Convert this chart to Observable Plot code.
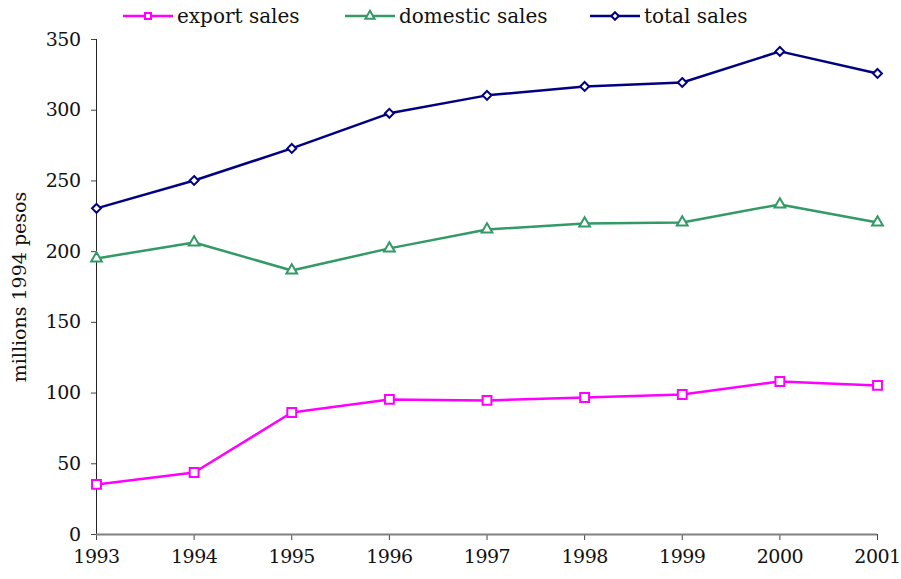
<!DOCTYPE html>
<html>
<head>
<meta charset="utf-8">
<script src="https://cdn.jsdelivr.net/npm/d3@7"></script>
<script src="https://cdn.jsdelivr.net/npm/@observablehq/plot@0.6"></script>
<style>
  html, body { margin: 0; padding: 0; background: white; }
  #wrap { position: relative; width: 901px; height: 579px; font-family: "DejaVu Serif", serif; }
  #legend { position: absolute; top: 0; left: 0; width: 901px; height: 34px; }
  .item { position: absolute; top: 3px; height: 26px; display: flex; align-items: center; font-size: 20px; color: #111; }
  .item svg { margin-right: 4px; }
  svg text { font-family: "DejaVu Serif", serif; }
  g[aria-label="x-axis tick label"] text, g[aria-label="y-axis tick label"] text { letter-spacing: -0.5px; }
</style>
</head>
<body>
<div id="wrap">
  <div id="chart"></div>
  <div id="legend"></div>
</div>
<script>
const years = [1993, 1994, 1995, 1996, 1997, 1998, 1999, 2000, 2001];
const exportSales   = [35.4, 43.8, 86.3, 95.5, 94.8, 96.9, 99.0, 108.2, 105.4];
const domesticSales = [195.2, 206.5, 186.7, 202.3, 215.7, 219.9, 220.6, 233.4, 220.6];
const totalSales    = [230.6, 250.3, 273.0, 297.8, 310.5, 316.8, 319.6, 341.6, 326.0];
const seriesNames   = ["export sales", "domestic sales", "total sales"];
const seriesColors  = ["#FF00FF", "#339966", "#000080"];
const seriesSymbols = ["square", "triangle", "diamond2"];
const yTicks = [0, 50, 100, 150, 200, 250, 300, 350];

const seriesValues = [exportSales, domesticSales, totalSales];
const data = [];
seriesNames.forEach((name, i) => {
  years.forEach((yr, j) => data.push({series: name, year: yr, value: seriesValues[i][j]}));
});

const FONT = "'DejaVu Serif', serif";

const chart = Plot.plot({
  width: 901,
  height: 579,
  marginTop: 39,
  marginBottom: 45,
  marginLeft: 96,
  marginRight: 24,
  style: {fontFamily: FONT, fontSize: "20px", color: "#111", background: "white", overflow: "visible"},
  x: {domain: [1993, 2001]},
  y: {domain: [0, 350]},
  color: {domain: seriesNames, range: seriesColors},
  symbol: {domain: seriesNames, range: seriesSymbols},
  marks: [
    Plot.axisX({ticks: years, tickFormat: d => String(d), tickSize: 6, tickPadding: 9, fontSize: 19, label: null, stroke: "#444"}),
    Plot.axisY({ticks: yTicks, tickSize: 5, tickPadding: 11, fontSize: 19,
      label: "millions 1994 pesos", labelAnchor: "center", labelOffset: 84, labelArrow: "none", stroke: "#444"}),
    Plot.ruleX([1993], {stroke: "#222", strokeWidth: 1}),
    Plot.ruleY([0], {stroke: "#808080", strokeWidth: 2}),
    Plot.line(data, {x: "year", y: "value", z: "series", stroke: "series", strokeWidth: 2.5}),
    Plot.dot(data.filter(d => d.series === "export sales"), {x: "year", y: "value", stroke: "series", symbol: "series", r: 5, strokeWidth: 2, fill: "white"}),
    Plot.dot(data.filter(d => d.series === "domestic sales"), {x: "year", y: "value", stroke: "series", symbol: "series", r: 4, strokeWidth: 2, fill: "white"}),
    Plot.dot(data.filter(d => d.series === "total sales"), {x: "year", y: "value", stroke: "series", symbol: "series", r: 4, strokeWidth: 2, fill: "white"})
  ]
});
document.getElementById("chart").appendChild(chart);

// legend
const legend = d3.select("#legend");
const lefts = [123, 345, 590];
const symMap = {square: d3.symbolSquare, triangle: d3.symbolTriangle, diamond2: d3.symbolDiamond2};
seriesNames.forEach((name, i) => {
  const item = legend.append("div").attr("class", "item").style("left", lefts[i] + "px");
  const svg = item.append("svg").attr("width", 50).attr("height", 20);
  svg.append("line").attr("x1", 0).attr("x2", 50).attr("y1", 10).attr("y2", 10)
    .attr("stroke", seriesColors[i]).attr("stroke-width", 2.5);
  svg.append("path").attr("transform", "translate(25,10)")
    .attr("d", d3.symbol(symMap[seriesSymbols[i]], 36)())
    .attr("fill", "white").attr("stroke", seriesColors[i]).attr("stroke-width", 2);
  item.append("span").text(name);
});
</script>
</body>
</html>
